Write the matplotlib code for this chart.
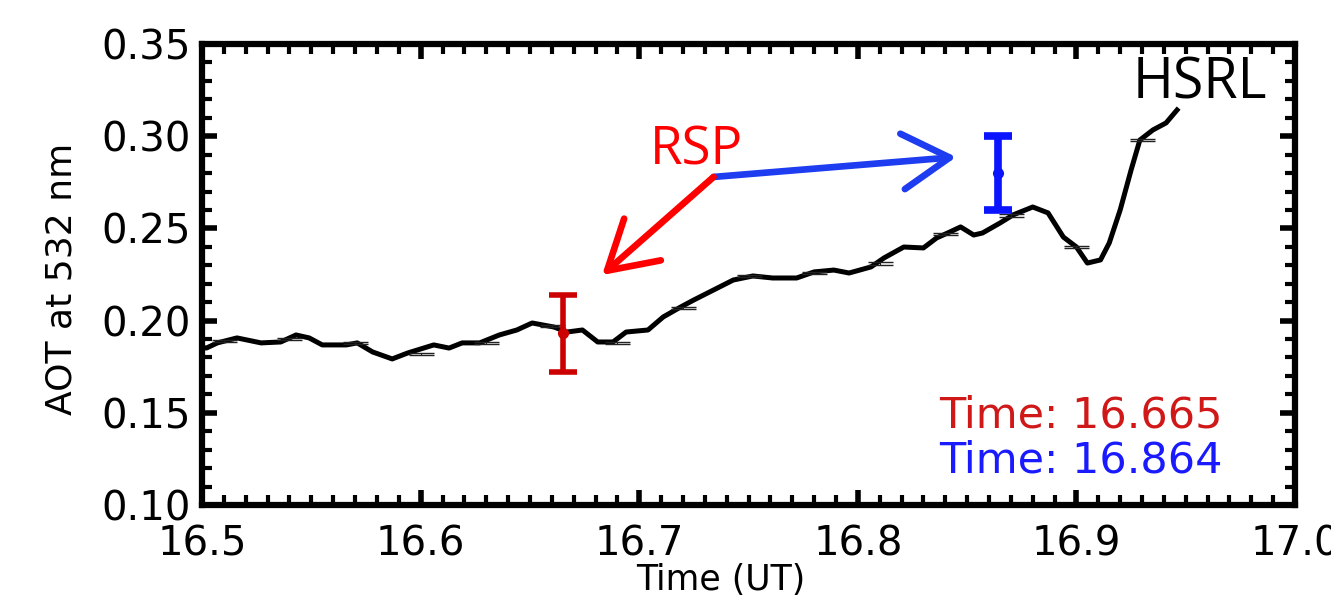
import numpy as np
import matplotlib
matplotlib.use('Agg')
import matplotlib.pyplot as plt
from matplotlib.ticker import MultipleLocator

# HSRL AOT trace (time in UT hours, AOT at 532 nm)
hsrl_time = [16.500, 16.502, 16.507, 16.516, 16.527, 16.536, 16.543, 16.549, 16.555,
             16.566, 16.571, 16.578, 16.587, 16.594, 16.606, 16.613, 16.619, 16.627,
             16.636, 16.644, 16.651, 16.661, 16.667, 16.674, 16.681, 16.688, 16.694,
             16.704, 16.711, 16.719, 16.725, 16.734, 16.743, 16.752, 16.761, 16.772,
             16.780, 16.789, 16.796, 16.806, 16.812, 16.821, 16.830, 16.836, 16.842,
             16.847, 16.853, 16.857, 16.865, 16.871, 16.880, 16.887, 16.894, 16.900,
             16.905, 16.911, 16.915, 16.920, 16.925, 16.929, 16.935, 16.941, 16.946]
hsrl_aot = [0.1855, 0.1851, 0.1879, 0.1906, 0.1879, 0.1884, 0.1922, 0.1906, 0.1868,
            0.1868, 0.1879, 0.1830, 0.1792, 0.1824, 0.1868, 0.1851, 0.1879, 0.1879,
            0.1922, 0.1949, 0.1987, 0.1965, 0.1938, 0.1949, 0.1884, 0.1884, 0.1938,
            0.1949, 0.2020, 0.2074, 0.2112, 0.2166, 0.2220, 0.2242, 0.2231, 0.2231,
            0.2264, 0.2274, 0.2258, 0.2291, 0.2340, 0.2399, 0.2394, 0.2448, 0.2480,
            0.2508, 0.2464, 0.2475, 0.2529, 0.2573, 0.2616, 0.2584, 0.2453, 0.2399,
            0.2312, 0.2329, 0.2421, 0.2600, 0.2817, 0.2979, 0.3034, 0.3072, 0.3142]

# small HSRL error bars
hsrl_err_time = [16.51, 16.54, 16.57, 16.60, 16.63, 16.66, 16.69, 16.72, 16.75,
                 16.78, 16.81, 16.84, 16.87, 16.90, 16.93]
hsrl_err_aot = [0.189, 0.190, 0.188, 0.182, 0.188, 0.197, 0.188, 0.207, 0.224,
                0.226, 0.231, 0.247, 0.257, 0.240, 0.298]
hsrl_err = 0.0006

# RSP retrievals
rsp_time = [16.665, 16.864]
rsp_aot = [0.193, 0.280]
rsp_err = [0.021, 0.020]
rsp_colors = ['#cc0000', '#0a14ff']
rsp_lw = [4.0, 5.5]

arrow_start = (16.734, 0.2779)
arrow_red_end = (16.683, 0.2247)
arrow_blue_end = (16.845, 0.2887)

plt.rcParams['font.family'] = 'DejaVu Sans'

fig = plt.figure(figsize=(13.31, 6.06), dpi=100, facecolor='w')
ax = fig.add_axes([0.1518, 0.1667, 0.8212, 0.7607])

ax.plot(hsrl_time, hsrl_aot, color='k', lw=3.6, zorder=3)
ax.errorbar(hsrl_err_time, hsrl_err_aot, yerr=hsrl_err, fmt='none', ecolor='#222222',
            elinewidth=0.8, capsize=9, capthick=1.0, zorder=4)

for t, a, e, c, w in zip(rsp_time, rsp_aot, rsp_err, rsp_colors, rsp_lw):
    ax.errorbar([t], [a], yerr=[e], fmt='o', color=c, ms=7, elinewidth=w,
                capsize=10, capthick=w, zorder=5)

ax.annotate('', xy=arrow_blue_end, xytext=arrow_start,
            arrowprops=dict(arrowstyle='->,head_length=0.85,head_width=0.5',
                            mutation_scale=40, lw=4.8, color='#1e3cf0',
                            shrinkA=0, shrinkB=0))
ax.annotate('', xy=arrow_red_end, xytext=arrow_start,
            arrowprops=dict(arrowstyle='->,head_length=0.85,head_width=0.5',
                            mutation_scale=40, lw=4.8, color='#ff0000',
                            shrinkA=0, shrinkB=0))

ax.text(16.726, 0.2844, 'RSP', color='#ff0000', fontsize=38, family='Open Sans',
        ha='center', va='baseline')
ax.text(16.987, 0.3207, 'HSRL', color='k', fontsize=40, family='Open Sans',
        ha='right', va='baseline')
ax.text(16.967, 0.1420, 'Time: 16.665', color='#d01818', fontsize=31,
        ha='right', va='baseline')
ax.text(16.967, 0.1178, 'Time: 16.864', color='#1a1aff', fontsize=31,
        ha='right', va='baseline')

ax.set_xlim(16.5, 17.0)
ax.set_ylim(0.10, 0.35)
ax.xaxis.set_major_locator(MultipleLocator(0.1))
ax.xaxis.set_minor_locator(MultipleLocator(0.01))
ax.yaxis.set_major_locator(MultipleLocator(0.05))
ax.yaxis.set_minor_locator(MultipleLocator(0.01))
ax.xaxis.set_major_formatter(plt.FormatStrFormatter('%.1f'))
ax.yaxis.set_major_formatter(plt.FormatStrFormatter('%.2f'))

for s in ax.spines.values():
    s.set_linewidth(4.5)
ax.tick_params(which='both', direction='in', top=True, right=True, colors='k')
ax.tick_params(which='major', length=11, width=4, labelsize=29)
ax.tick_params(which='minor', length=7, width=3)
ax.tick_params(axis='x', which='major', pad=14)
ax.tick_params(axis='y', which='major', pad=8)

ax.set_xlabel('Time (UT)', fontsize=25)
ax.set_ylabel('AOT at 532 nm', fontsize=26)
ax.xaxis.set_label_coords(0.475, -0.125)
ax.yaxis.set_label_coords(-0.113, 0.49)

plt.savefig('out.png', dpi=100)
plt.close(fig)
